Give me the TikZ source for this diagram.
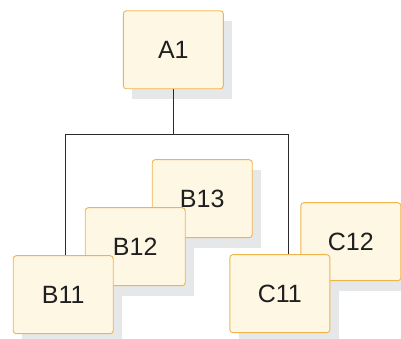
\documentclass[tikz,border=0pt]{standalone}
\usepackage{fontspec}
\setsansfont{Liberation Sans}
\usepackage{xcolor}
\usepackage{tikz}
\usetikzlibrary{positioning, backgrounds}

\definecolor{boxfill}{HTML}{FDF7E4}
\definecolor{boxline}{HTML}{F0B44C}
\definecolor{shadowgray}{HTML}{E6E7E8}
\definecolor{linkgray}{HTML}{2A2A2A}

\begin{document}
\begin{tikzpicture}[
    x=1pt, y=1pt,
    box/.style={rectangle, draw=boxline, line width=0.9pt, rounded corners=3pt, fill=boxfill, minimum width=100pt, minimum height=78pt, inner sep=0pt, outer sep=0pt, font=\sffamily\fontsize{25}{29}\selectfont, text=black!88},
    link/.style={draw=linkgray, line width=0.9pt},
    shade/.style={fill=shadowgray},
]
\useasboundingbox (0,0) rectangle (401,339);

% Root
\node[box] (a1) at (173.3,289.2) {A1};

% B group (back to front)
\node[box] (b13) at (202.2,140.3) {B13};
\node[box, below left=-30pt and -33pt of b13] (b12) {B12};
\node[box, below left=-30pt and -28pt of b12] (b11) {B11};

% C group (back to front)
\node[box] (c12) at (350.8,97.3) {C12};
\node[box, below left=-26pt and -29pt of c12] (c11) {C11};

% Shadows
\begin{scope}[on background layer]
\foreach \n in {a1, b11, b12, b13, c11, c12}
    \fill[shade] ([shift={(9pt,-10pt)}]\n.south west) rectangle ([shift={(9pt,-10pt)}]\n.north east);
\end{scope}

% Links
\begin{scope}[on background layer]
\draw[link] (a1.south) -- ++(0,-46pt);
\draw[link] ([xshift=2pt]b11.north) |- ([yshift=-46pt]a1.south) -| ([xshift=9pt]c11.north);
\end{scope}

\end{tikzpicture}
\end{document}
